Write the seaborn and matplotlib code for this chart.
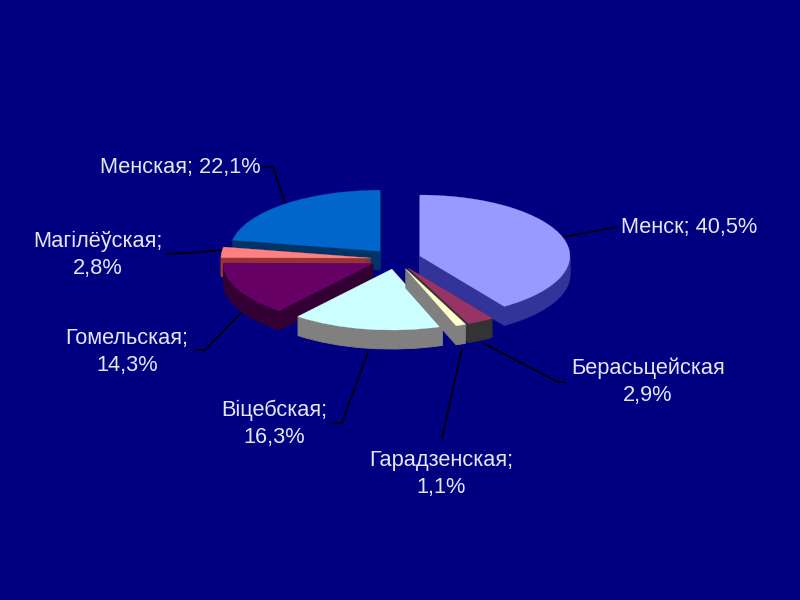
import matplotlib
matplotlib.use("Agg")
import matplotlib.pyplot as plt
import seaborn as sns

regions = ["Менск", "Берасьцейская", "Гарадзенская", "Віцебская",
           "Гомельская", "Магілёўская", "Менская"]
shares = [40.5, 2.9, 1.1, 16.3, 14.3, 2.8, 22.1]
share_text = ["40,5%", "2,9%", "1,1%", "16,3%", "14,3%", "2,8%", "22,1%"]
top_colors = ["#9999FF", "#993366", "#FFFFCC", "#CCFFFF", "#660066", "#FF8080", "#0066CC"]
side_colors = ["#333399", "#333333", "#808080", "#808080", "#330033", "#993333", "#003366"]
paint_rank = [2, 5, 6, 4, 3, 1, 0]  # per wedge: back to front rank

sns.set_theme(style="white")
plt.rcParams["font.family"] = ["Liberation Sans", "DejaVu Sans"]
NAVY = "#000080"
fig = plt.figure(figsize=(8, 6), dpi=100, facecolor=NAVY)
ax = fig.add_axes([0, 0, 1, 1], facecolor=NAVY)

# chart frame in pixels
CX, CY, RX, RY, DEPTH = 396, 259, 150, 61, 19
def px(x, y):
    return (x - CX) / RX, (CY - y) / RY

explode = [1 / 6] * len(shares)
for level in range(DEPTH, -1, -1):
    colors = top_colors if level == 0 else side_colors
    wedges, _ = ax.pie(shares, explode=explode, colors=colors, startangle=90,
                       counterclock=False, center=(0, -level / RY),
                       wedgeprops=dict(linewidth=0.6 if level else 0.2))
    for w, rank, c in zip(wedges, paint_rank, colors):
        w.set_edgecolor(c)
        w.set_zorder(10 * rank + (DEPTH - level) * 0.1 + 1)

ax.set_aspect("auto")
ax.set_xlim(px(0, 0)[0], px(800, 0)[0])
ax.set_ylim(px(0, 600)[1], px(0, 0)[1])
ax.set_axis_off()

leaders = [
    [(563, 237), (617, 227)],
    [(483, 343), (558, 382), (565, 382)],
    [(462, 348), (442, 438)],
    [(368, 352), (342, 423), (332, 423)],
    [(242, 312), (205, 350), (196, 350)],
    [(223, 250), (187, 253), (166, 254)],
    [(285, 203), (273, 167), (264, 167)],
]
for pts in leaders:
    xy = [px(*p) for p in pts]
    ax.plot([p[0] for p in xy], [p[1] for p in xy], color="black", lw=1.2, zorder=0.5)

label_pos = [(689, 228), (648, 382), (441, 474), (274, 424), (127, 352), (98, 255), (180, 168)]
one_line = {"Менск", "Менская"}
for name, val, (x, y) in zip(regions, share_text, label_pos):
    if name in one_line:
        s = f"{name}; {val}"
    elif name == "Берасьцейская":
        s = f"{name}\n{val}"
    else:
        s = f"{name};\n{val}"
    tx, ty = px(x, y)
    ax.text(tx, ty, s, ha="center", va="center", ma="center", color="#E4E8F6",
            fontsize=15.7, linespacing=1.4, zorder=200)

fig.savefig("out.png", dpi=100, facecolor=NAVY)
